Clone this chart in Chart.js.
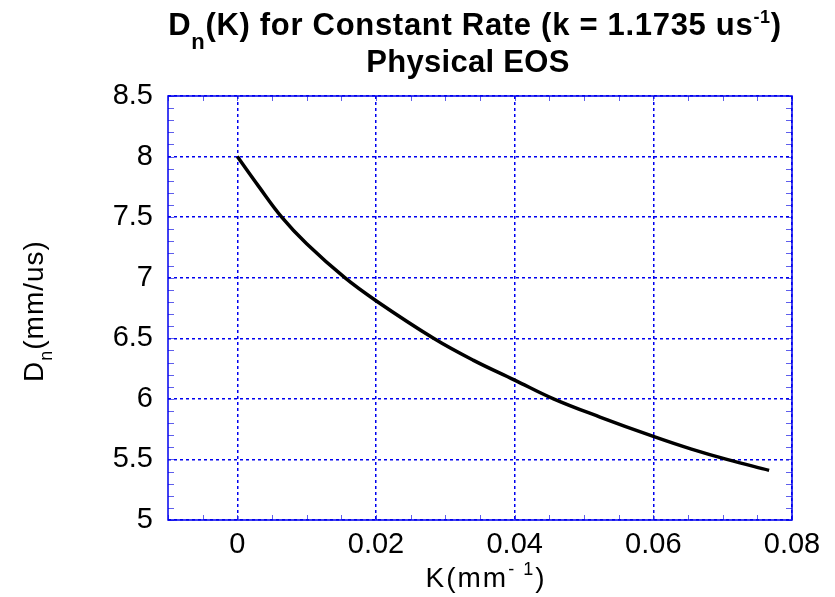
<!DOCTYPE html>
<html>
<head>
<meta charset="utf-8">
<script src="https://cdn.jsdelivr.net/npm/chart.js@4/dist/chart.umd.min.js"></script>
<style>
  html, body { margin: 0; padding: 0; background: #fff; }
  canvas { display: block; }
</style>
</head>
<body>
<canvas id="c" width="835" height="597"></canvas>
<script>
// ---- data ----
const curvature = [0, 0.003, 0.0064, 0.01, 0.0155, 0.02, 0.0283, 0.034, 0.04, 0.0456, 0.0523, 0.06, 0.0655, 0.0706, 0.0767];
const detonationSpeed = [8.0, 7.76, 7.5, 7.28, 7.0, 6.81, 6.5, 6.32, 6.155, 6.0, 5.85, 5.69, 5.585, 5.5, 5.41];
const xTicks = [0, 0.02, 0.04, 0.06, 0.08];
const xTickLabels = ['0', '0.02', '0.04', '0.06', '0.08'];
const yTicks = [5, 5.5, 6, 6.5, 7, 7.5, 8, 8.5];
const yTickLabels = ['5', '5.5', '6', '6.5', '7', '7.5', '8', '8.5'];
const xMinorStep = 0.005;
const yMinorStep = 0.1;

const FONT = "'Liberation Sans', Arial, Helvetica, sans-serif";
const BLUE = '#0000ee';

function drawRich(ctx, segs, cx, by, spacing) {
  ctx.letterSpacing = (spacing || 0) + 'px';
  let total = 0;
  segs.forEach(s => { ctx.font = s.font; total += ctx.measureText(s.text).width; });
  let x = cx - total / 2;
  ctx.textAlign = 'left';
  ctx.textBaseline = 'alphabetic';
  segs.forEach(s => {
    ctx.font = s.font;
    ctx.fillText(s.text, x, by + (s.dy || 0));
    x += ctx.measureText(s.text).width;
  });
  ctx.letterSpacing = '0px';
}

const decorPlugin = {
  id: 'decor',
  afterDraw(chart) {
    const ctx = chart.ctx;
    const a = chart.chartArea;
    const xs = chart.scales.x, ys = chart.scales.y;
    ctx.save();
    // minor ticks (inside) on all four sides
    ctx.strokeStyle = 'rgba(40,40,230,0.75)';
    ctx.lineWidth = 1;
    ctx.beginPath();
    for (let v = xs.min; v <= xs.max + 1e-9; v += xMinorStep) {
      const px = Math.round(xs.getPixelForValue(v)) + 0.5;
      ctx.moveTo(px, a.bottom); ctx.lineTo(px, a.bottom - 5);
      ctx.moveTo(px, a.top); ctx.lineTo(px, a.top + 5);
    }
    for (let v = ys.min; v <= ys.max + 1e-9; v += yMinorStep) {
      const py = Math.round(ys.getPixelForValue(v)) + 0.5;
      ctx.moveTo(a.left, py); ctx.lineTo(a.left + 6, py);
      ctx.moveTo(a.right, py); ctx.lineTo(a.right - 6, py);
    }
    ctx.stroke();
    // frame
    ctx.strokeStyle = BLUE;
    ctx.lineWidth = 1.5;
    ctx.strokeRect(a.left, a.top, a.right - a.left, a.bottom - a.top);
    ctx.restore();

    // titles
    ctx.save();
    ctx.fillStyle = '#000';
    const B = 'bold 31px ' + FONT;
    drawRich(ctx, [
      { text: 'D', font: B },
      { text: 'n', font: 'bold 22px ' + FONT, dy: 14 },
      { text: '(K) for Constant Rate (k = 1.1735 us', font: B },
      { text: '-1', font: 'bold 18px ' + FONT, dy: -12 },
      { text: ')', font: B }
    ], 475, 35, 0.7);
    drawRich(ctx, [{ text: 'Physical EOS', font: B }], 468, 72, 0.3);

    const R = '28px ' + FONT;
    drawRich(ctx, [
      { text: 'K(mm', font: R },
      { text: '- 1', font: '18px ' + FONT, dy: -12 },
      { text: ')', font: R }
    ], (a.left + a.right) / 2 + 6, 587, 2);

    ctx.translate(43, (a.top + a.bottom) / 2 + 3);
    ctx.rotate(-Math.PI / 2);
    drawRich(ctx, [
      { text: 'D', font: R },
      { text: 'n', font: '18px ' + FONT, dy: 9 },
      { text: '(mm/us)', font: R }
    ], 0, 0, 1);
    ctx.restore();
  }
};

new Chart(document.getElementById('c'), {
  type: 'line',
  data: {
    datasets: [{
      data: curvature.map((k, i) => ({ x: k, y: detonationSpeed[i] })),
      borderColor: '#000',
      borderWidth: 3.5,
      pointRadius: 0,
      fill: false,
      tension: 0.4
    }]
  },
  options: {
    responsive: false,
    animation: false,
    layout: { padding: { top: 96, right: 43, left: 0, bottom: 0 } },
    plugins: { legend: { display: false }, tooltip: { enabled: false }, title: { display: false } },
    scales: {
      x: {
        type: 'linear',
        min: -0.01,
        max: 0.08,
        afterBuildTicks: s => { s.ticks = xTicks.map(v => ({ value: v })); },
        afterFit: s => { s.height = 77; },
        ticks: {
          autoSkip: false, maxRotation: 0, padding: 8, color: '#000',
          font: { family: FONT, size: 29 },
          callback: (v, i) => xTickLabels[i]
        },
        grid: { color: BLUE, lineWidth: 1.5, drawTicks: false },
        border: { display: false, dash: [3, 3] }
      },
      y: {
        type: 'linear',
        min: 5,
        max: 8.5,
        afterBuildTicks: s => { s.ticks = yTicks.map(v => ({ value: v })); },
        afterFit: s => { s.width = 168; },
        ticks: {
          autoSkip: false, padding: 15, color: '#000',
          font: { family: FONT, size: 29 },
          callback: (v, i) => yTickLabels[i]
        },
        grid: { color: BLUE, lineWidth: 1.5, drawTicks: false },
        border: { display: false, dash: [3, 3] }
      }
    }
  },
  plugins: [decorPlugin]
});
</script>
</body>
</html>
